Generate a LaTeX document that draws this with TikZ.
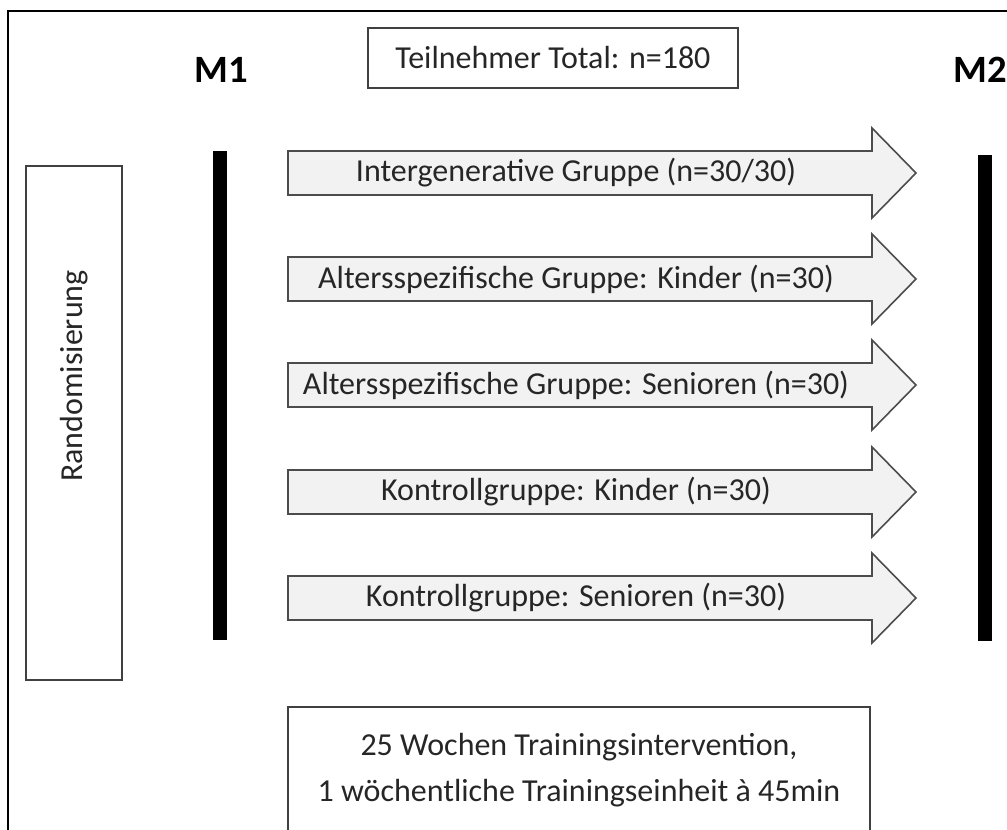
\documentclass[tikz,border=0pt]{standalone}
\usepackage{fontspec}
\setmainfont{Carlito}
\begin{document}
\begin{tikzpicture}[x=0.75pt,y=-0.75pt,
  txt/.style={font=\fontsize{24}{30}\selectfont, text=black!85, inner sep=0pt},
  lbl/.style={font=\fontsize{29}{32}\selectfont\bfseries, inner sep=0pt},
  boxline/.style={draw=black!75, line width=1.3pt},
  grouparrow/.style={draw=black!70, fill=black!5, line width=1.2pt, line join=miter},
  bar/.style={fill=black}]
\useasboundingbox (0,0) rectangle (1007,829);
% outer frame (only left and top visible)
\draw[line width=1.6pt] (8,835) -- (8,11) -- (1015,11);
% labels
\node[lbl] (m1) at (221,70) {M1};
\node[lbl] (m2) at (980,70) {M2};
% title
\draw[boxline] (368,28) rectangle (738,88);
\node[txt] (total) at (553,58) {Teilnehmer Total: n=180};
% randomisation box
\draw[boxline] (26,166) rectangle (122,680);
\node[txt, rotate=90] (rand) at (74,376) {Randomisierung};
% bars
\fill[bar] (213,151) rectangle (227,640);
\fill[bar] (978,155) rectangle (992,641);
% arrows
\foreach \y/\nm/\t in {173/g1/{Intergenerative Gruppe (n=30/30)},
                      279/g2/{Altersspezifische Gruppe: Kinder (n=30)},
                      385/g3/{Altersspezifische Gruppe: Senioren (n=30)},
                      492/g4/{Kontrollgruppe: Kinder (n=30)},
                      598/g5/{Kontrollgruppe: Senioren (n=30)}}{
  \draw[grouparrow] (288,\y-22) -- (872,\y-22) -- (872,\y-45) -- (916,\y)
     -- (872,\y+45) -- (872,\y+22) -- (288,\y+22) -- cycle;
  \node[txt] (\nm) at (576,\y) {\t};
}
% bottom box
\draw[boxline] (288,840) -- (288,707) -- (870,707) -- (870,840);
\node[txt, align=center] (info) at (579,770) {25 Wochen Trainingsintervention,\\[4pt]1 wöchentliche Trainingseinheit à 45min};
\end{tikzpicture}
\end{document}
